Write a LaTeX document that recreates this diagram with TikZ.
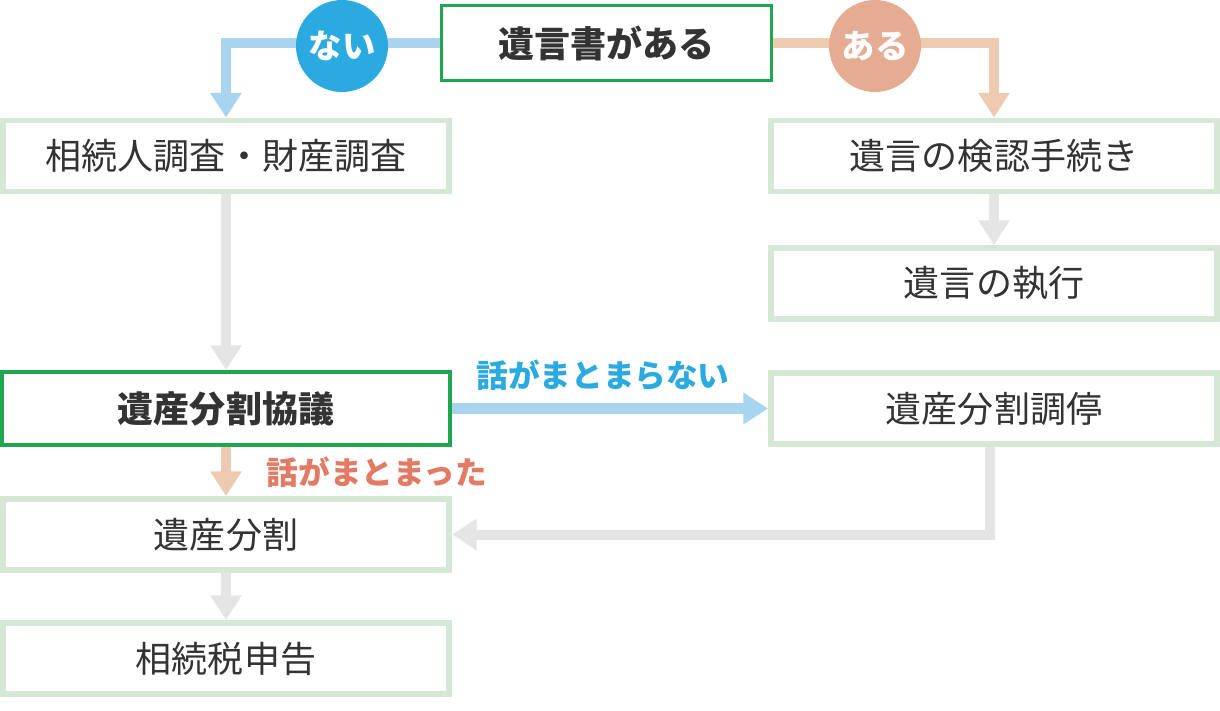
\documentclass[tikz,border=0pt]{standalone}
\usepackage{fontspec}
\setmainfont{Noto Sans CJK JP}
\usetikzlibrary{arrows.meta}

\definecolor{boxline}{HTML}{D5E8D5}
\definecolor{keyline}{HTML}{1EA650}
\definecolor{textgray}{HTML}{333333}
\definecolor{noblue}{HTML}{2AAAE1}
\definecolor{nobluelight}{HTML}{A9D4EF}
\definecolor{yespeach}{HTML}{E5AC92}
\definecolor{yespeachlight}{HTML}{EECBB0}
\definecolor{flowgray}{HTML}{E5E5E5}
\definecolor{agreered}{HTML}{E37B64}

\begin{document}
\begin{tikzpicture}[x=0.02cm,y=-0.02cm]
\useasboundingbox (0,0) rectangle (1220,710);

\begin{scope}[every node/.style={rectangle,draw=boxline,line width=3.4pt,fill=white,
              minimum width=8.92cm,minimum height=1.42cm,text=textgray,
              font=\fontsize{20.5}{24}\selectfont}]
\node[draw=keyline,line width=1.7pt,minimum width=6.6cm,minimum height=1.5cm,
      font=\fontsize{20.5}{24}\selectfont\bfseries] (will) at (606.5,43) {遺言書がある};
\node (survey) at (226,156) {相続人調査・財産調査};
\node (probate) at (994,156) {遺言の検認手続き};
\node (execute) at (994,283.5) {遺言の執行};
\node[draw=keyline,line width=2.3pt,minimum width=8.96cm,minimum height=1.46cm,
      font=\fontsize{20.5}{24}\selectfont\bfseries] (agreement) at (226,408.5) {遺産分割協議};
\node (mediation) at (994,408.5) {遺産分割調停};
\node (division) at (226,534.5) {遺産分割};
\node (taxreturn) at (226,658.5) {相続税申告};
\end{scope}

\begin{scope}[>={Triangle[width=17pt,length=14pt]},line width=5.7pt]
\draw [->,nobluelight] (will.west) -| (survey.north);
\draw [->,yespeachlight] (will.east) -| (probate.north);
\draw [->,flowgray] (survey) -- (agreement);
\draw [->,flowgray] (probate) -- (execute);
\draw [->,nobluelight] (agreement) -- (mediation);
\draw [->,yespeachlight] (agreement) -- (division);
\draw [->,flowgray] ([xshift=-4*0.02cm]mediation.south) |- (division.east);
\draw [->,flowgray] (division) -- (taxreturn);
\end{scope}

\begin{scope}[every node/.style={circle,minimum size=1.84cm,inner sep=0pt,text=white,
              font=\fontsize{19}{22}\selectfont\bfseries}]
\node[fill=noblue] (no) at (342,46) {ない};
\node[fill=yespeach] (yes) at (875,46) {ある};
\end{scope}

\node[text=noblue,font=\fontsize{18}{22}\selectfont\bfseries] (fail) at (603,375) {話がまとまらない};
\node[text=agreered,font=\fontsize{18}{22}\selectfont\bfseries] (settle) at (377,472) {話がまとまった};
\end{tikzpicture}
\end{document}
